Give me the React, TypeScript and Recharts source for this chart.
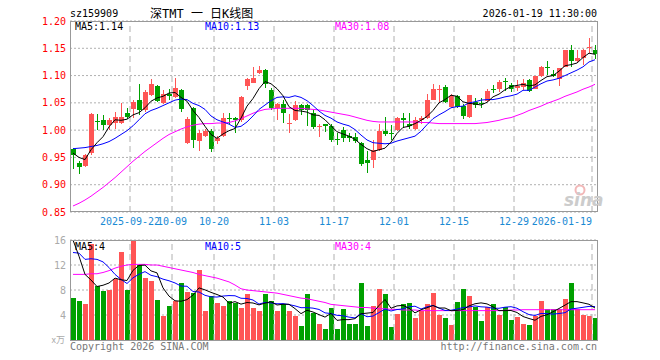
import React from 'react';
import { ComposedChart, Bar, Line, XAxis, YAxis, CartesianGrid, ReferenceLine } from 'recharts';

const dates = [
  '2025-09-08','2025-09-09','2025-09-10','2025-09-11','2025-09-12','2025-09-15','2025-09-16','2025-09-17','2025-09-18','2025-09-19',
  '2025-09-22','2025-09-23','2025-09-24','2025-09-25','2025-09-26','2025-09-29','2025-09-30',
  '2025-10-09','2025-10-10','2025-10-13','2025-10-14','2025-10-15','2025-10-16','2025-10-17','2025-10-20','2025-10-21','2025-10-22',
  '2025-10-23','2025-10-24','2025-10-27','2025-10-28','2025-10-29','2025-10-30','2025-10-31',
  '2025-11-03','2025-11-04','2025-11-05','2025-11-06','2025-11-07','2025-11-10','2025-11-11','2025-11-12','2025-11-13','2025-11-14',
  '2025-11-17','2025-11-18','2025-11-19','2025-11-20','2025-11-21','2025-11-24','2025-11-25','2025-11-26','2025-11-27','2025-11-28',
  '2025-12-01','2025-12-02','2025-12-03','2025-12-04','2025-12-05','2025-12-08','2025-12-09','2025-12-10','2025-12-11','2025-12-12',
  '2025-12-15','2025-12-16','2025-12-17','2025-12-18','2025-12-19','2025-12-22','2025-12-23','2025-12-24','2025-12-25','2025-12-26',
  '2025-12-29','2025-12-30','2025-12-31',
  '2026-01-05','2026-01-06','2026-01-07','2026-01-08','2026-01-09','2026-01-12','2026-01-13','2026-01-14','2026-01-15','2026-01-16',
  '2026-01-19',
];

const open = [
  0.966,0.939,0.935,0.958,1.016,1.018,1.010,1.013,1.014,1.031,
  1.039,1.056,1.036,1.065,1.080,1.050,1.067,1.061,1.073,0.977,
  1.040,0.981,0.990,0.998,0.981,0.989,1.023,1.023,1.018,1.081,
  1.087,1.104,1.110,1.074,1.040,1.047,1.013,1.018,1.046,1.046,
  1.032,1.007,1.011,1.008,0.983,1.000,0.990,0.988,0.976,0.946,
  0.946,0.964,0.998,0.995,1.000,1.023,1.012,1.003,1.018,1.023,
  1.056,1.075,1.079,1.043,1.062,1.044,1.025,1.052,1.050,1.053,
  1.075,1.076,1.090,1.082,1.077,1.079,1.092,1.076,1.099,1.116,
  1.103,1.093,1.116,1.147,1.126,1.133,1.151,1.147,
];
const high = [
  0.968,0.944,0.957,1.031,1.029,1.027,1.022,1.034,1.050,1.041,
  1.056,1.085,1.073,1.093,1.083,1.073,1.076,1.096,1.076,1.024,
  1.042,1.000,1.003,1.002,0.989,1.031,1.031,1.025,1.063,1.095,
  1.116,1.118,1.112,1.077,1.050,1.055,1.030,1.053,1.048,1.048,
  1.037,1.011,1.012,1.012,0.994,1.006,0.995,0.994,0.978,0.961,
  0.982,1.011,1.024,1.009,1.024,1.032,1.032,1.024,1.026,1.067,
  1.085,1.083,1.083,1.067,1.064,1.047,1.065,1.059,1.058,1.076,
  1.083,1.091,1.095,1.086,1.092,1.093,1.094,1.100,1.117,1.127,
  1.111,1.114,1.147,1.156,1.147,1.148,1.168,1.156,
];
const low = [
  0.928,0.919,0.933,0.955,1.001,1.000,1.000,1.002,1.012,1.020,
  1.022,1.027,1.033,1.063,1.052,1.048,1.055,1.058,1.033,0.975,
  0.968,0.962,0.988,0.960,0.975,0.987,1.012,0.995,1.015,1.074,
  1.086,1.102,1.077,1.036,1.018,1.013,0.994,1.016,1.028,1.007,
  1.003,0.988,0.996,0.978,0.973,0.979,0.978,0.976,0.935,0.921,
  0.931,0.961,0.990,0.982,0.998,1.004,1.003,1.001,1.012,1.021,
  1.055,1.052,1.049,1.040,1.041,1.021,1.023,1.041,1.041,1.052,
  1.068,1.070,1.071,1.070,1.072,1.073,1.069,1.075,1.097,1.101,
  1.097,1.081,1.115,1.115,1.124,1.119,1.141,1.130,
];
const close = [
  0.954,0.932,0.955,1.030,1.015,1.010,1.018,1.024,1.024,1.025,
  1.051,1.036,1.070,1.085,1.054,1.066,1.063,1.078,1.039,1.020,
  0.982,0.995,0.999,0.966,0.985,1.022,1.022,1.019,1.061,1.094,
  1.096,1.111,1.085,1.040,1.047,1.031,1.014,1.046,1.037,1.036,
  1.006,1.008,1.008,0.982,0.982,0.986,0.985,0.980,0.938,0.940,
  0.964,0.998,0.993,0.994,1.022,1.019,1.008,1.018,1.023,1.056,
  1.075,1.076,1.052,1.062,1.043,1.026,1.064,1.046,1.049,1.071,
  1.074,1.089,1.089,1.076,1.080,1.087,1.071,1.099,1.116,1.115,
  1.099,1.113,1.146,1.126,1.132,1.147,1.152,1.140,
];

const ma5 = [
  0.958,0.950,0.946,0.964,0.977,0.988,1.006,1.019,1.018,1.020,
  1.028,1.032,1.041,1.053,1.059,1.062,1.068,1.069,1.060,1.053,
  1.036,1.023,1.007,0.992,0.985,0.993,0.999,1.003,1.022,1.044,
  1.058,1.076,1.089,1.085,1.076,1.063,1.043,1.036,1.035,1.033,
  1.028,1.027,1.019,1.008,0.997,0.993,0.989,0.983,0.974,0.966,
  0.961,0.964,0.967,0.978,0.994,1.005,1.007,1.012,1.018,1.025,
  1.036,1.050,1.056,1.064,1.062,1.052,1.049,1.048,1.046,1.051,
  1.061,1.066,1.074,1.080,1.082,1.084,1.081,1.083,1.091,1.098,
  1.100,1.108,1.118,1.120,1.123,1.133,1.141,1.139,
];
const ma10 = [
  0.966,0.967,0.968,0.970,0.972,0.975,0.979,0.985,0.992,0.999,
  1.008,1.019,1.030,1.036,1.040,1.045,1.050,1.055,1.057,1.056,
  1.049,1.045,1.038,1.026,1.019,1.015,1.011,1.005,1.007,1.015,
  1.026,1.038,1.046,1.054,1.060,1.061,1.060,1.063,1.060,1.054,
  1.045,1.035,1.027,1.022,1.015,1.011,1.008,1.001,0.991,0.982,
  0.977,0.976,0.975,0.976,0.980,0.983,0.986,0.989,0.998,1.010,
  1.021,1.028,1.034,1.041,1.043,1.044,1.050,1.052,1.055,1.056,
  1.056,1.058,1.061,1.063,1.066,1.073,1.073,1.079,1.085,1.090,
  1.092,1.095,1.100,1.105,1.110,1.116,1.125,1.129,
];
const ma30 = [
  0.861,0.866,0.872,0.879,0.887,0.895,0.904,0.913,0.923,0.933,
  0.943,0.952,0.961,0.969,0.977,0.985,0.992,0.997,1.002,1.006,
  1.009,1.011,1.012,1.012,1.013,1.013,1.014,1.017,1.021,1.026,
  1.031,1.035,1.038,1.039,1.040,1.040,1.040,1.040,1.040,1.039,
  1.038,1.037,1.035,1.033,1.031,1.029,1.027,1.024,1.021,1.018,
  1.016,1.015,1.015,1.015,1.015,1.015,1.015,1.015,1.014,1.014,
  1.013,1.012,1.012,1.012,1.012,1.012,1.012,1.012,1.013,1.014,
  1.016,1.018,1.021,1.023,1.027,1.031,1.036,1.040,1.044,1.049,
  1.053,1.057,1.062,1.066,1.070,1.075,1.079,1.084,
];

const volume = [
  6.8,6.2,5.8,15.4,8.6,7.8,8.0,9.7,14.1,8.0,
  15.9,12.0,9.9,9.5,6.4,3.9,5.4,6.2,9.1,7.7,
  7.5,11.2,4.6,7.1,6.0,5.5,6.2,5.9,5.1,7.3,
  5.1,4.7,7.3,6.2,4.7,5.7,4.7,3.8,2.2,7.4,
  4.3,2.6,1.8,5.2,1.8,4.9,2.6,2.6,9.1,2.3,
  5.4,8.2,7.4,2.1,4.2,5.8,6.0,3.6,4.6,5.8,
  7.6,4.0,3.6,2.4,6.1,8.2,7.0,5.3,3.1,5.3,
  5.8,4.0,5.3,3.2,3.7,2.6,2.4,3.9,6.3,5.0,
  5.0,5.0,6.6,9.1,5.0,4.0,3.9,3.6,
];
const volMa5 = [
  16.0,13.4,10.5,9.6,8.56,8.76,9.12,9.9,9.64,9.52,
  11.14,11.94,11.98,11.06,10.74,8.34,7.02,6.28,6.2,6.46,
  7.18,8.34,8.02,7.62,7.28,6.88,5.88,6.14,5.74,6.0,
  5.92,5.62,5.9,6.12,5.6,5.72,5.72,5.02,4.22,4.76,
  4.48,4.06,3.66,4.26,3.14,3.26,3.26,3.42,4.2,4.3,
  4.4,5.52,6.48,5.08,5.46,5.54,5.1,4.34,4.84,5.16,
  5.52,5.12,5.12,4.68,4.74,4.86,5.46,5.8,5.94,5.78,
  5.3,4.7,4.7,4.72,4.4,3.76,3.44,3.16,3.78,4.04,
  4.52,5.04,5.58,6.14,6.14,5.94,5.72,5.12,
];
const volMa10 = [
  14.0,13.9,12.9,13.0,12.9,12.5,11.6,10.5,9.7,9.04,
  9.95,10.53,10.94,10.35,10.13,9.74,9.48,9.13,8.63,8.6,
  7.76,7.68,7.15,6.91,6.87,7.03,7.11,7.08,6.68,6.64,
  6.4,5.75,6.02,5.93,5.8,5.82,5.67,5.46,5.17,5.18,
  5.1,4.89,4.34,4.24,3.95,3.87,3.66,3.54,4.23,3.72,
  3.83,4.39,4.95,4.64,4.88,4.97,5.31,5.41,4.96,5.31,
  5.53,5.11,4.73,4.76,4.95,5.19,5.29,5.46,5.31,5.26,
  5.08,5.08,5.25,5.33,5.09,4.53,4.07,3.93,4.25,4.22,
  4.14,4.24,4.37,4.96,5.09,5.23,5.38,5.35,
];
const volMa30 = [
  10.5,10.5,10.5,10.6,10.6,10.8,11.1,11.5,11.8,12.0,
  12.1,12.1,12.1,12.0,12.0,11.8,11.6,11.4,11.2,11.0,
  10.8,10.5,10.3,10.1,9.9,9.6,9.3,8.8,8.2,8.0,
  7.9,7.8,7.7,7.6,7.5,7.3,7.1,6.9,6.7,6.6,
  6.4,6.2,6.0,5.7,5.6,5.5,5.4,5.3,5.2,5.2,
  5.1,5.0,5.0,4.9,4.9,4.8,4.8,4.8,4.7,4.7,
  4.7,4.7,4.7,4.7,4.7,4.7,4.7,4.7,4.7,4.7,
  4.7,4.7,4.75,4.8,4.8,4.85,4.85,4.85,4.85,4.85,
  4.85,4.85,4.85,4.85,4.85,4.85,4.85,4.85,
];

const tickDates = ['2025-09-22','2025-10-09','2025-10-20','2025-11-03','2025-11-17','2025-12-01','2025-12-15','2025-12-29','2026-01-19'];
const tickTexts = ['2025-09-22','10-09','10-20','11-03','11-17','12-01','12-15','12-29','2026-01-19'];
const priceTicks = [0.85, 0.9, 0.95, 1.0, 1.05, 1.1, 1.15, 1.2];
const volTicks = [4, 8, 12, 16];

const RED = '#FF5555';
const GREEN = '#00A000';
const MONO = '"DejaVu Sans Mono", "Liberation Mono", monospace';

const rows = dates.map((date, i) => ({
  date,
  range: [low[i], high[i]],
  o: open[i], h: high[i], l: low[i], c: close[i],
  ma5: ma5[i], ma10: ma10[i], ma30: ma30[i],
  vol: volume[i], vma5: volMa5[i], vma10: volMa10[i], vma30: volMa30[i],
  up: close[i] >= open[i],
}));

function CandleShape(props: any) {
  const { x, y, width, height, payload } = props;
  if (x == null || y == null || payload == null) return <g />;
  const top = Math.min(y, y + height);
  const bottom = Math.max(y, y + height);
  const { o, h, l, c } = payload;
  const span = h - l || 1;
  const toY = (p: number) => top + ((h - p) / span) * (bottom - top);
  const center = Math.round(x + width / 2);
  const color = c >= o ? RED : GREEN;
  const bt = Math.round(toY(Math.max(o, c)));
  const bb = Math.round(toY(Math.min(o, c)));
  return (
    <g>
      <line x1={center - 0.5} x2={center - 0.5} y1={Math.round(top)} y2={Math.round(bottom)} stroke={color} strokeWidth={1} />
      <rect x={center - 3} y={bt} width={5} height={Math.max(1, bb - bt)} fill={color} />
    </g>
  );
}

function VolShape(props: any) {
  const { x, y, width, height, payload } = props;
  if (x == null || y == null || payload == null) return <g />;
  const center = Math.round(x + width / 2);
  const t = Math.round(Math.min(y, y + height));
  const b = Math.round(Math.max(y, y + height));
  return <rect x={center - 3} y={t} width={5} height={Math.max(0, b - t)} fill={payload.up ? RED : GREEN} />;
}

const DateTick = (props: any) => {
  const { x, payload } = props;
  const idx = tickDates.indexOf(payload.value);
  if (idx < 0) return <g />;
  const last = idx === tickDates.length - 1;
  return (
    <text x={x - 3} y={225} textAnchor={last ? 'end' : 'middle'} fill="#1a8ad4" fontSize={10} fontFamily={MONO}>
      {tickTexts[idx]}
    </text>
  );
};

const PriceTick = (props: any) => {
  const { y, payload } = props;
  return (
    <text x={66} y={y} dy="0.36em" textAnchor="end" fill="#FF0000" fontSize={10} fontFamily={MONO}>
      {Number(payload.value).toFixed(2)}
    </text>
  );
};

const VolTick = (props: any) => {
  const { y, payload } = props;
  return (
    <text x={66} y={y} dy="0.36em" textAnchor="end" fill="#aaaaaa" fontSize={10} fontFamily={MONO}>
      {payload.value}
    </text>
  );
};

export default function App() {
  return (
    <div style={{ position: 'absolute', left: 0, top: 0, width: 660, height: 360, background: '#fff', overflow: 'hidden' }}>
      <div style={{ position: 'absolute', left: 0, top: 0 }}>
        <ComposedChart width={660} height={232} data={rows} margin={{ top: 21, right: 62, bottom: 0, left: 0 }}>
          <CartesianGrid vertical={false} stroke="#b0b0b0" strokeDasharray="2 2" />
          <XAxis dataKey="date" interval={0} axisLine={false} tickLine={false} height={20} tick={DateTick} />
          <YAxis type="number" domain={[0.85, 1.2]} ticks={priceTicks} width={70} axisLine={false} tickLine={false} tick={PriceTick} allowDataOverflow />
          {tickDates.map((d) => (
            <ReferenceLine key={d} x={d} position="start" stroke="#b0b0b0" strokeDasharray="6 4" />
          ))}
          <Bar dataKey="range" barSize={5} shape={CandleShape} isAnimationActive={false} />
          <Line type="linear" dataKey="ma30" stroke="#FF00FF" strokeWidth={1} dot={false} activeDot={false} isAnimationActive={false} />
          <Line type="linear" dataKey="ma10" stroke="#0000FF" strokeWidth={1} dot={false} activeDot={false} isAnimationActive={false} />
          <Line type="linear" dataKey="ma5" stroke="#000000" strokeWidth={1} dot={false} activeDot={false} isAnimationActive={false} />
        </ComposedChart>
      </div>
      <div style={{ position: 'absolute', left: 0, top: 230 }}>
        <ComposedChart width={660} height={130} data={rows} margin={{ top: 10, right: 62, bottom: 20, left: 0 }}>
          <CartesianGrid vertical={false} stroke="#b0b0b0" strokeDasharray="2 2" />
          <XAxis dataKey="date" hide />
          <YAxis type="number" domain={[0, 16]} ticks={volTicks} width={70} axisLine={false} tickLine={false} tick={VolTick} allowDataOverflow />
          {tickDates.map((d) => (
            <ReferenceLine key={d} x={d} position="start" stroke="#b0b0b0" strokeDasharray="6 4" />
          ))}
          <Bar dataKey="vol" barSize={5} shape={VolShape} isAnimationActive={false} />
          <Line type="linear" dataKey="vma30" stroke="#FF00FF" strokeWidth={1} dot={false} activeDot={false} isAnimationActive={false} />
          <Line type="linear" dataKey="vma10" stroke="#0000FF" strokeWidth={1} dot={false} activeDot={false} isAnimationActive={false} />
          <Line type="linear" dataKey="vma5" stroke="#000000" strokeWidth={1} dot={false} activeDot={false} isAnimationActive={false} />
        </ComposedChart>
      </div>
      <svg width={660} height={360} style={{ position: 'absolute', left: 0, top: 0, pointerEvents: 'none' }}>
        <rect x={70.5} y={21.5} width={527} height={190} fill="none" stroke="#999999" strokeWidth={1} />
        <rect x={70.5} y={240.5} width={527} height={100} fill="none" stroke="#999999" strokeWidth={1} />
        <text x={70} y={17} fontSize={10} fontFamily={MONO} fill="#000">sz159909</text>
        <text x={150} y={18} fontSize={12} fontFamily={'"DejaVu Sans Mono", "Noto Sans CJK SC", sans-serif'} fill="#000">深TMT 一 日K线图</text>
        <text x={597} y={17} fontSize={10} fontFamily={MONO} fill="#000" textAnchor="end">2026-01-19 11:30:00</text>
        <text x={75} y={30} fontSize={10} fontFamily={MONO} fill="#000">MA5:1.14</text>
        <text x={205} y={30} fontSize={10} fontFamily={MONO} fill="#0000FF">MA10:1.13</text>
        <text x={335} y={30} fontSize={10} fontFamily={MONO} fill="#FF00FF">MA30:1.08</text>
        <text x={75} y={250} fontSize={10} fontFamily={MONO} fill="#000">MA5:4</text>
        <text x={205} y={250} fontSize={10} fontFamily={MONO} fill="#0000FF">MA10:5</text>
        <text x={335} y={250} fontSize={10} fontFamily={MONO} fill="#FF00FF">MA30:4</text>
        <text x={65} y={343} fontSize={9} fontFamily={'"Noto Sans CJK SC", sans-serif'} fill="#aaaaaa" textAnchor="end">x万</text>
        <text x={70} y={350} fontSize={10} fontFamily={MONO} fill="#777777">Copyright 2026 SINA.COM</text>
        <text x={597} y={350} fontSize={10} fontFamily={MONO} fill="#777777" textAnchor="end">http://finance.sina.com.cn</text>
        <circle cx={580} cy={190} r={4.5} fill="none" stroke="#f2b8b8" strokeWidth={2} />
        <text x={564} y={206} fontSize={17} fontStyle="italic" fontWeight="bold" fontFamily="'DejaVu Sans', sans-serif" fill="#cccccc">sina</text>
      </svg>
    </div>
  );
}
